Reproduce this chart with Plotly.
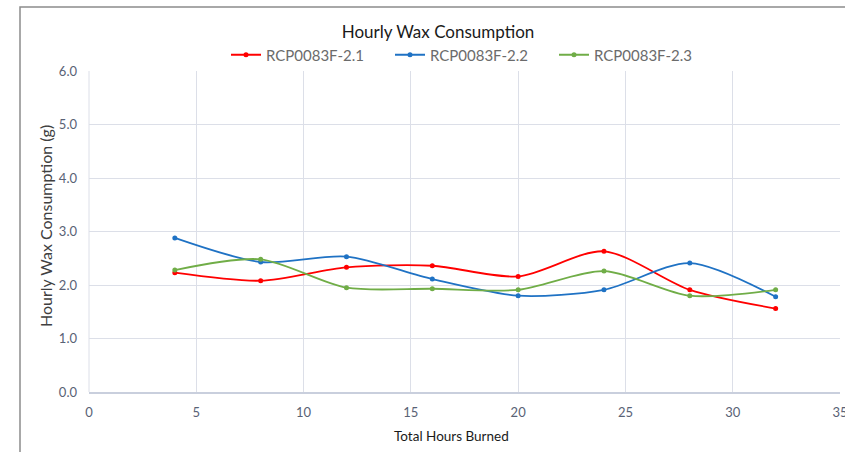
import plotly.graph_objects as go

hours = [4, 8, 12, 16, 20, 24, 28, 32]
series_names = ["RCP0083F-2.1", "RCP0083F-2.2", "RCP0083F-2.3"]
red_vals = [2.23, 2.08, 2.33, 2.36, 2.16, 2.63, 1.91, 1.56]
blue_vals = [2.88, 2.43, 2.53, 2.11, 1.80, 1.91, 2.41, 1.78]
green_vals = [2.28, 2.48, 1.95, 1.93, 1.91, 2.26, 1.80, 1.91]
colors = ["#FF0000", "#1F72C4", "#70AD47"]
x_ticks = [0, 5, 10, 15, 20, 25, 30, 35]
y_ticks = [0, 1, 2, 3, 4, 5, 6]

fig = go.Figure()
for name, vals, c in zip(series_names, [red_vals, blue_vals, green_vals], colors):
    fig.add_trace(go.Scatter(
        x=hours, y=vals, name=name, mode="lines+markers",
        line=dict(color=c, width=1.8, shape="spline", smoothing=0.8),
        marker=dict(color=c, size=5),
    ))

W, H = 845, 452
L, R, T, B = 89, 5, 71, 60
pw, ph = W - L - R, H - T - B

def px(x):
    return (x - L) / pw

def py(y):
    return (H - B - y) / ph

grid = "#DCDFE8"
tick_col = "#596275"
fig.update_layout(
    width=W, height=H,
    margin=dict(l=L, r=R, t=T, b=B, autoexpand=False),
    paper_bgcolor="white", plot_bgcolor="white",
    font=dict(family="Lato", color=tick_col),
    showlegend=True,
    title=dict(text="Hourly Wax Consumption", x=px(438), xref="paper", xanchor="center",
               y=1 - 32 / H, yanchor="middle", yref="container",
               font=dict(size=17, color="#1a1a1a", family="Lato")),
    legend=dict(orientation="h", x=px(472), xanchor="center", y=py(55), yanchor="middle",
                font=dict(size=15, color="#6b6b6b"), itemwidth=30, bgcolor="rgba(0,0,0,0)",
                entrywidth=119, entrywidthmode="pixels"),
    xaxis=dict(range=[0, 35], tickvals=x_ticks, ticktext=[str(t) for t in x_ticks],
               showgrid=True, gridcolor=grid, gridwidth=1, zeroline=False,
               showline=True, linecolor="#C9CFDD", linewidth=1.5, mirror=False,
               tickfont=dict(size=13, color=tick_col), ticks="", fixedrange=True,
               ticklabelstandoff=8, ticklabeloverflow="allow"),
    yaxis=dict(range=[0, 6], tickvals=y_ticks, ticktext=[f"{t:.1f}" for t in y_ticks],
               showgrid=True, gridcolor=grid, gridwidth=1, zeroline=False,
               showline=False, tickfont=dict(size=13, color=tick_col), ticks="",
               ticklabelstandoff=11, fixedrange=True),
    annotations=[
        dict(text="Hourly Wax Consumption (g)", textangle=-90, x=px(45), y=py(226),
             xref="paper", yref="paper", showarrow=False, xanchor="center", yanchor="middle",
             font=dict(size=16, color="#404040")),
        dict(text="Total Hours Burned", x=px(451), y=py(436),
             xref="paper", yref="paper", showarrow=False, xanchor="center", yanchor="middle",
             font=dict(size=13.5, color="#1a1a1a")),
    ],
    shapes=[
        dict(type="rect", xref="paper", yref="paper", x0=px(20), x1=px(900), y0=py(500), y1=py(7),
             line=dict(color="#8C8C8C", width=1.5), layer="below"),
        dict(type="line", xref="paper", yref="paper", x0=0, x1=0, y0=0, y1=1,
             line=dict(color=grid, width=1)),
    ],
)

fig.write_html("out.html", config={"displayModeBar": False},
               post_script="document.body.style.margin='0';document.body.style.overflow='hidden';")
